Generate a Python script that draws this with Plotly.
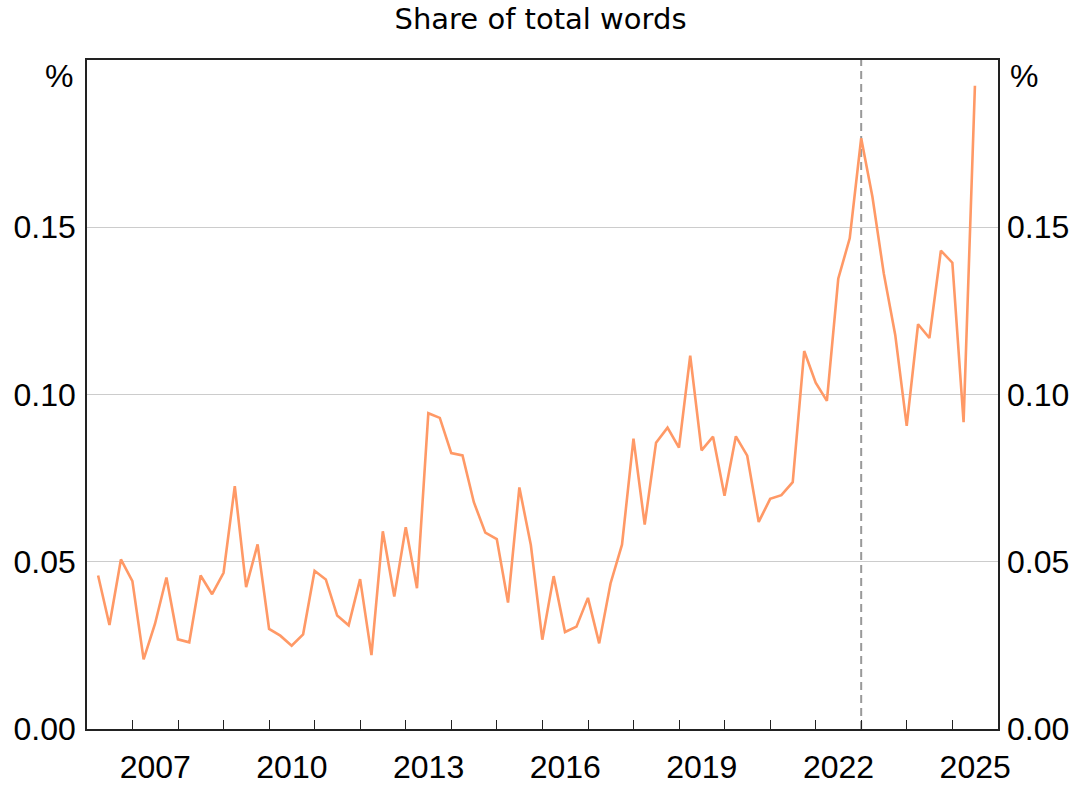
import pandas as pd
import plotly.graph_objects as go

# Quarterly data, 2006 Q1 to 2025 Q2
start_quarter = "2006Q1"
n_quarters = 78
share_pct = [
    0.0459, 0.0311, 0.0507, 0.0442, 0.0208, 0.0314, 0.0453, 0.0268, 0.0259, 0.0459,
    0.0403, 0.0467, 0.0726, 0.0424, 0.0552, 0.0299, 0.0279, 0.0249, 0.0283, 0.0473,
    0.0447, 0.0339, 0.0310, 0.0448, 0.0221, 0.0591, 0.0396, 0.0603, 0.0421, 0.0944,
    0.0930, 0.0825, 0.0818, 0.0678, 0.0587, 0.0568, 0.0378, 0.0722, 0.0550, 0.0267,
    0.0457, 0.0290, 0.0306, 0.0392, 0.0256, 0.0435, 0.0551, 0.0868, 0.0611, 0.0856,
    0.0901, 0.0841, 0.1116, 0.0833, 0.0874, 0.0697, 0.0875, 0.0817, 0.0619, 0.0688,
    0.0699, 0.0738, 0.1130, 0.1035, 0.0981, 0.1346, 0.1467, 0.1766, 0.1591, 0.1362,
    0.1178, 0.0906, 0.1210, 0.1169, 0.1430, 0.1394, 0.0917, 0.1923,
]
dates = pd.period_range(start_quarter, periods=n_quarters, freq="Q").to_timestamp(how="end").normalize()

year_labels = ["2007", "2010", "2013", "2016", "2019", "2022", "2025"]
tick_years = list(range(2007, 2026))
y_ticks = [0.0, 0.05, 0.10, 0.15]
y_ticktext = ["0.00", "0.05", "0.10", "0.15"]
event_date = "2022-12-31"

line_color = "#FF9966"
tick_font = dict(family="Liberation Sans, Arial, sans-serif", size=32, color="#000")

W, H = 1089, 789

fig = go.Figure()
fig.add_trace(go.Scatter(x=dates, y=share_pct, mode="lines",
                         line=dict(color=line_color, width=2.6),
                         showlegend=False, hoverinfo="x+y"))
# invisible copy for the right-hand axis
fig.add_trace(go.Scatter(x=dates, y=share_pct, mode="lines", yaxis="y2",
                         line=dict(color="rgba(0,0,0,0)", width=0),
                         showlegend=False, hoverinfo="skip"))

fig.add_shape(type="line", xref="x", yref="y domain", x0=event_date, x1=event_date,
              y0=0, y1=1, line=dict(color="#999999", width=2, dash="8px,5px"), layer="below")

fig.update_layout(
    width=W, height=H,
    margin=dict(l=87, r=W - 998, t=60, b=H - 729),
    plot_bgcolor="white", paper_bgcolor="white",
    title=dict(text="Share of total words", x=540.5 / W, xanchor="center",
               y=1 - 19 / H, yanchor="middle",
               font=dict(family="DejaVu Sans, sans-serif", size=29, color="#000")),
    xaxis=dict(
        type="date",
        range=["2006-01-01", "2026-01-01"],
        tickmode="array",
        tickvals=[f"{y}-07-02" for y in year_labels],
        ticktext=year_labels,
        ticks="",
        tickfont=tick_font,
        showgrid=False, zeroline=False, automargin=False,
        showline=True, linecolor="#222", linewidth=1.5, mirror=True,
        ticklabelstandoff=9,
        minor=dict(tickmode="array", tickvals=[f"{y}-01-01" for y in tick_years],
                   ticks="inside", ticklen=9, tickcolor="#222", tickwidth=1.2, showgrid=False),
    ),
    yaxis=dict(
        range=[0, 0.2], tickmode="array", tickvals=y_ticks, ticktext=y_ticktext,
        ticks="", tickfont=tick_font, showgrid=True, gridcolor="#cccccc", gridwidth=1.2,
        zeroline=False, showline=True, linecolor="#222", linewidth=1.5, mirror=True,
        ticklabelstandoff=3, automargin=False,
    ),
    yaxis2=dict(
        range=[0, 0.2], tickmode="array", tickvals=y_ticks, ticktext=y_ticktext,
        overlaying="y", side="right", ticks="", tickfont=tick_font, showgrid=False,
        zeroline=False, showline=False, ticklabelstandoff=8, automargin=False,
    ),
)

fig.add_annotation(text="%", xref="paper", yref="paper", x=0, y=1, xanchor="right", yanchor="middle",
                   xshift=-12, yshift=-16, showarrow=False, font=tick_font)
fig.add_annotation(text="%", xref="paper", yref="paper", x=1, y=1, xanchor="left", yanchor="middle",
                   xshift=10, yshift=-16, showarrow=False, font=tick_font)

fig.write_html("out.html", config={"displayModeBar": False},
               post_script="document.body.style.margin='0';")
